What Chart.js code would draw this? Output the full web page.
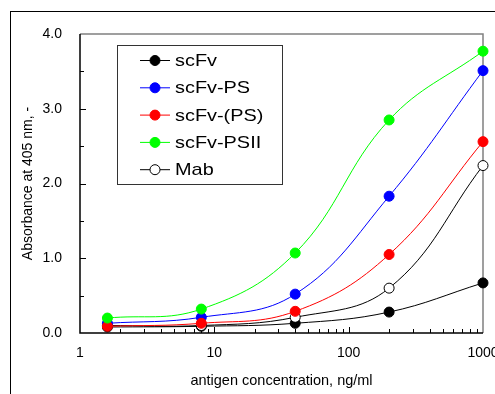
<!DOCTYPE html>
<html>
<head>
<meta charset="utf-8">
<script src="https://cdn.jsdelivr.net/npm/chart.js@4.4.1/dist/chart.umd.min.js"></script>
<style>
  html, body { margin: 0; padding: 0; background: #fff; }
  canvas { display: block; }
</style>
</head>
<body>
<canvas id="chart_elisa" width="495" height="394"></canvas>
<script>
// antigen concentration, ng/ml
const concentrations = [1.6, 8, 40, 200, 1000];

// absorbance at 405 nm
const scFv = [0.08, 0.09, 0.13, 0.28, 0.67];
const scFvPS = [0.13, 0.21, 0.52, 1.83, 3.51];
const scFvPSbr = [0.09, 0.13, 0.29, 1.05, 2.56];
const scFvPSII = [0.20, 0.32, 1.07, 2.85, 3.77];
const mab = [0.10, 0.10, 0.21, 0.60, 2.24];

const seriesLabels = ['scFv', 'scFv-PS', 'scFv-(PS)', 'scFv-PSII', 'Mab'];
const xTickLabels = [1, 10, 100, 1000];
const yTickLabels = [0, 1, 2, 3, 4];

const FONT = "'Liberation Sans', Arial, sans-serif";

function toPoints(values) {
    return concentrations.map((c, i) => ({ x: c, y: values[i] }));
}

function series(label, values, color, fill, order) {
    return {
        label: label,
        data: toPoints(values),
        borderColor: color,
        backgroundColor: fill,
        borderWidth: 1,
        pointRadius: 5,
        pointBorderWidth: 1,
        pointBorderColor: color,
        pointBackgroundColor: fill,
        tension: 0.4,
        clip: false,
        order: order,
    };
}

// outer frame, plot frame and inward tick marks
const framePlugin = {
    id: 'frame',
    beforeDraw(chart) {
        const ctx = chart.ctx;
        ctx.save();
        ctx.fillStyle = '#fff';
        ctx.fillRect(0, 0, chart.width, chart.height);
        ctx.strokeStyle = '#000';
        ctx.lineWidth = 1;
        ctx.strokeRect(10.5, 11.5, 700, 700);
        ctx.restore();
    },
    beforeDatasetsDraw(chart) {
        const ctx = chart.ctx;
        const a = chart.chartArea;
        const xs = chart.scales.x;
        const ys = chart.scales.y;
        ctx.save();

        ctx.strokeStyle = '#808080';
        ctx.lineWidth = 1.5;
        ctx.beginPath();
        ctx.moveTo(a.left, a.top);
        ctx.lineTo(a.right, a.top);
        ctx.lineTo(a.right, a.bottom);
        ctx.stroke();

        ctx.strokeStyle = '#000';
        ctx.beginPath();
        ctx.moveTo(a.left, a.top);
        ctx.lineTo(a.left, a.bottom);
        ctx.lineTo(a.right, a.bottom);
        ctx.stroke();

        ctx.lineWidth = 1;
        ctx.beginPath();
        for (let d = 1; d < 1000; d *= 10) {
            for (let m = 1; m < 10; m++) {
                const v = d * m;
                if (v === 1) continue;
                const px = Math.round(xs.getPixelForValue(v)) + 0.5;
                const len = m === 1 ? 6 : 4;
                ctx.moveTo(px, a.bottom);
                ctx.lineTo(px, a.bottom - len);
            }
        }
        for (let v = 0.5; v < 4; v += 0.5) {
            const py = Math.round(ys.getPixelForValue(v)) + 0.5;
            const len = Number.isInteger(v) ? 6 : 4;
            ctx.moveTo(a.left, py);
            ctx.lineTo(a.left + len, py);
        }
        ctx.stroke();
        ctx.restore();
    }
};

// legend box inside the plot area
const legendPlugin = {
    id: 'boxLegend',
    afterDraw(chart) {
        const ctx = chart.ctx;
        ctx.save();
        ctx.strokeStyle = '#333';
        ctx.lineWidth = 1;
        ctx.strokeRect(117.5, 45.5, 165, 139);
        chart.data.datasets.forEach((ds, i) => {
            const y = 60.5 + i * 27.3;
            ctx.strokeStyle = ds.borderColor;
            ctx.beginPath();
            ctx.moveTo(140, y);
            ctx.lineTo(170, y);
            ctx.stroke();
            ctx.fillStyle = ds.pointBackgroundColor;
            ctx.beginPath();
            ctx.arc(155, y, 5, 0, Math.PI * 2);
            ctx.fill();
            ctx.stroke();
            ctx.save();
            ctx.translate(175, y + 1);
            ctx.scale(1.17, 1);
            ctx.fillStyle = '#000';
            ctx.font = '17px ' + FONT;
            ctx.textBaseline = 'middle';
            ctx.fillText(ds.label, 0, 0);
            ctx.restore();
        });
        ctx.restore();
    }
};

function initialize() {
    const canvas = document.getElementById('chart_elisa');
    new Chart(canvas, {
        type: 'line',
        data: {
            datasets: [
                series(seriesLabels[0], scFv, '#000000', '#000000', 4),
                series(seriesLabels[1], scFvPS, '#0000ff', '#0000ff', 2),
                series(seriesLabels[2], scFvPSbr, '#ff0000', '#ff0000', 1),
                series(seriesLabels[3], scFvPSII, '#00ff00', '#00ff00', 0),
                series(seriesLabels[4], mab, '#000000', '#ffffff', 3),
            ]
        },
        options: {
            responsive: false,
            animation: false,
            devicePixelRatio: 1,
            layout: { padding: { left: 0, top: 34, right: 12, bottom: 0 } },
            plugins: {
                legend: { display: false },
                tooltip: { enabled: false },
            },
            scales: {
                x: {
                    type: 'logarithmic',
                    min: 1,
                    max: 1000,
                    grid: { display: false, drawTicks: false },
                    border: { display: false },
                    ticks: {
                        autoSkip: false,
                        maxRotation: 0,
                        padding: 12,
                        color: '#000',
                        font: { family: FONT, size: 14 },
                        callback: (v) => xTickLabels.includes(v) ? String(v) : '',
                    },
                    title: {
                        display: true,
                        text: 'antigen concentration, ng/ml',
                        color: '#000',
                        font: { family: FONT, size: 14.5 },
                        padding: 4,
                    },
                    afterFit: (scale) => {
                        scale.height = 61;
                        scale.paddingLeft = 0;
                        scale.paddingRight = 0;
                    },
                },
                y: {
                    min: 0,
                    max: 4,
                    grid: { display: false, drawTicks: false },
                    border: { display: false },
                    ticks: {
                        stepSize: 1,
                        padding: 18,
                        color: '#000',
                        font: { family: FONT, size: 14 },
                        callback: (v) => yTickLabels.includes(v) ? v.toFixed(1) : '',
                    },
                    title: {
                        display: true,
                        text: 'Absorbance at 405 nm, -',
                        color: '#000',
                        font: { family: FONT, size: 14 },
                        padding: 20,
                    },
                    afterFit: (scale) => {
                        scale.width = 80;
                    },
                },
            },
        },
        plugins: [framePlugin, legendPlugin],
    });
}

window.onload = initialize;
</script>
</body>
</html>
